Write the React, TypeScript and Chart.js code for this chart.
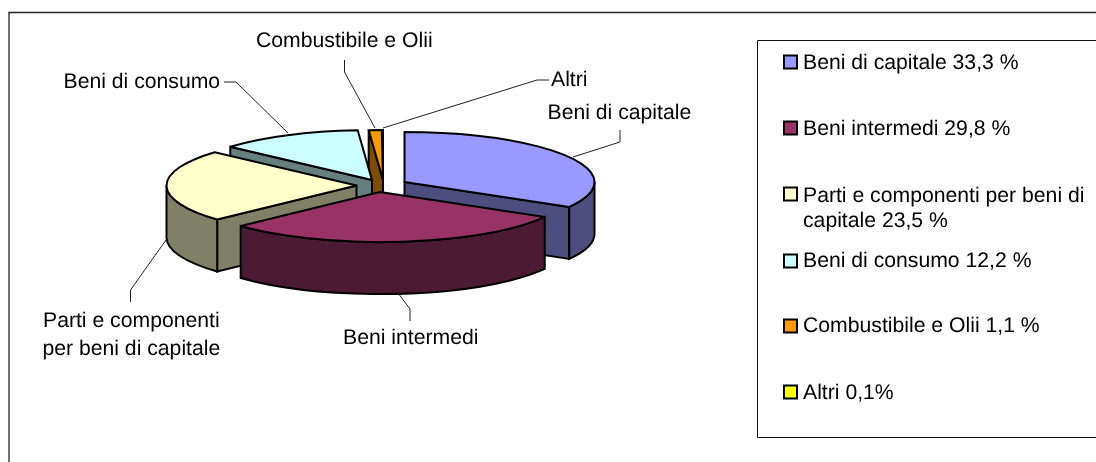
import React, { useEffect, useRef } from "react";
import { Chart, registerables } from "chart.js";

Chart.register(...registerables);

const categories = ["Beni di capitale", "Beni intermedi", "Parti e componenti per beni di capitale", "Beni di consumo", "Combustibile e Olii", "Altri"];
const shares = [33.3, 29.8, 23.5, 12.2, 1.1, 0.1];
const legendLines = [
  ["Beni di capitale 33,3 %"],
  ["Beni intermedi 29,8 %"],
  ["Parti e componenti per beni di", "capitale 23,5 %"],
  ["Beni di consumo 12,2 %"],
  ["Combustibile e Olii 1,1 %"],
  ["Altri 0,1%"],
];

// styles
const topColors = ["#9999FF", "#993366", "#FFFFCC", "#CCFFFF", "#FF9900", "#FFFF00"];
const wallColors = ["#4D4D80", "#4D1A33", "#808066", "#668080", "#804D00", "#808000"];
const explodeX = [24, -0.5, -24, -8.5, 2.5, 2.5];
const explodeY = [-4, 6, -0.5, -6, -6, -6];
const paintOrder = [5, 4, 3, 2, 0, 1];
const RX = 190;
const RY = 50;
const DEPTH = 52;
const FONT = '21.2px "Liberation Sans", Arial, sans-serif';

const legendSwatchY = [62, 128, 194, 261, 326, 392];
const legendBaselines = [[69], [135], [202, 227], [267], [332], [399]];

const callouts = [
  { text: ["Beni di capitale"], x: 547.5, y: [119], line: [[620, 130], [620, 142], [573, 157]] },
  { text: ["Beni intermedi"], x: 343, y: [344], line: [[410, 321], [410, 309], [398, 293]] },
  { text: ["Parti e componenti", "per beni di capitale"], x: 43, y: [327, 355], line: [[130.5, 302], [130.5, 290], [166, 240]] },
  { text: ["Beni di consumo"], x: 63.5, y: [88], line: [[224, 82], [236, 82], [288, 133]] },
  { text: ["Combustibile e Olii"], x: 256, y: [47], line: [[344.5, 60], [344.5, 72], [375, 128]] },
  { text: ["Altri"], x: 551, y: [86], line: [[549, 80], [537, 80], [383, 128]] },
];

const pie3d = {
  id: "pie3d",
  beforeDatasetsDraw(chart: any) {
    const ctx: CanvasRenderingContext2D = chart.ctx;
    const arcs = chart.getDatasetMeta(0).data;

    ctx.save();
    ctx.fillStyle = "#fff";
    ctx.fillRect(0, 0, chart.width, chart.height);

    // outer frame (runs off the right and bottom of the picture)
    ctx.strokeStyle = "#222";
    ctx.lineWidth = 1.3;
    ctx.beginPath();
    ctx.moveTo(9, 462);
    ctx.lineTo(9, 12.5);
    ctx.lineTo(1096, 12.5);
    ctx.stroke();

    // legend frame
    ctx.strokeStyle = "#111";
    ctx.lineWidth = 1;
    ctx.beginPath();
    ctx.moveTo(1096, 40.5);
    ctx.lineTo(757.5, 40.5);
    ctx.lineTo(757.5, 437.5);
    ctx.lineTo(1096, 437.5);
    ctx.stroke();

    ctx.lineJoin = "miter";
    ctx.miterLimit = 3;

    for (const i of paintOrder) {
      const arc = arcs[i];
      const cx = arc.x + explodeX[i];
      const cy = arc.y + explodeY[i];
      const a = arc.startAngle;
      const b = arc.endAngle;
      const pt = (t: number): [number, number] => [cx + RX * Math.cos(t), cy + RY * Math.sin(t)];

      ctx.strokeStyle = "#000";
      ctx.lineWidth = 2;
      ctx.fillStyle = wallColors[i];

      const quad = (t: number) => {
        const [x, y] = pt(t);
        ctx.beginPath();
        ctx.moveTo(cx, cy);
        ctx.lineTo(x, y);
        ctx.lineTo(x, y + DEPTH);
        ctx.lineTo(cx, cy + DEPTH);
        ctx.closePath();
        ctx.fill();
        ctx.stroke();
      };
      if (Math.cos(a) < 0) quad(a);
      if (Math.cos(b) > 0) quad(b);

      const from = Math.max(a, 0);
      const to = Math.min(b, Math.PI);
      if (to > from) {
        const [x0, y0] = pt(from);
        const [x1, y1] = pt(to);
        ctx.beginPath();
        ctx.moveTo(x0, y0);
        ctx.ellipse(cx, cy, RX, RY, 0, from, to);
        ctx.lineTo(x1, y1 + DEPTH);
        ctx.ellipse(cx, cy + DEPTH, RX, RY, 0, to, from, true);
        ctx.closePath();
        ctx.fill();
        ctx.stroke();
      }

      // top face: the library's own arc, squashed into the ellipse
      ctx.save();
      ctx.translate(cx, cy);
      ctx.scale(RX / arc.outerRadius, RY / arc.outerRadius);
      ctx.translate(-arc.x, -arc.y);
      arc.draw(ctx);
      ctx.restore();

      ctx.beginPath();
      ctx.moveTo(cx, cy);
      ctx.ellipse(cx, cy, RX, RY, 0, a, b);
      ctx.closePath();
      ctx.strokeStyle = "#000";
      ctx.lineWidth = 2;
      ctx.stroke();
    }

    // callouts
    ctx.font = FONT;
    (ctx as any).textRendering = "geometricPrecision";
    ctx.textBaseline = "alphabetic";
    ctx.textAlign = "left";
    for (const c of callouts) {
      ctx.strokeStyle = "#222";
      ctx.lineWidth = 1;
      ctx.beginPath();
      c.line.forEach(([x, y], k) => (k ? ctx.lineTo(x, y) : ctx.moveTo(x, y)));
      ctx.stroke();
      ctx.fillStyle = "#000";
      c.text.forEach((t, k) => {
        const w = ctx.measureText(c.text[0]).width;
        const tw = ctx.measureText(t).width;
        ctx.fillText(t, c.x + (w - tw) / 2, c.y[k]);
      });
    }

    // legend
    categories.forEach((_, i) => {
      const sy = legendSwatchY[i];
      ctx.fillStyle = topColors[i];
      ctx.strokeStyle = "#000";
      ctx.lineWidth = 2;
      ctx.fillRect(784, sy - 6.5, 13, 13);
      ctx.strokeRect(784, sy - 6.5, 13, 13);
      ctx.fillStyle = "#000";
      legendLines[i].forEach((t, k) => ctx.fillText(t, 803, legendBaselines[i][k]));
    });

    ctx.restore();
    return false;
  },
};

export default function App() {
  const ref = useRef<HTMLCanvasElement>(null);
  useEffect(() => {
    const chart = new Chart(ref.current!, {
      type: "pie",
      data: {
        labels: categories,
        datasets: [{ data: shares, backgroundColor: topColors, borderWidth: 0 }],
      },
      options: {
        animation: false,
        responsive: false,
        layout: { padding: { left: 190, right: 525, top: 0, bottom: 90 } },
        plugins: { legend: { display: false }, tooltip: { enabled: false } },
      },
      plugins: [pie3d],
    } as any);
    return () => chart.destroy();
  }, []);
  return <canvas ref={ref} width={1096} height={462} style={{ position: "absolute", left: 0, top: 0 }} />;
}
